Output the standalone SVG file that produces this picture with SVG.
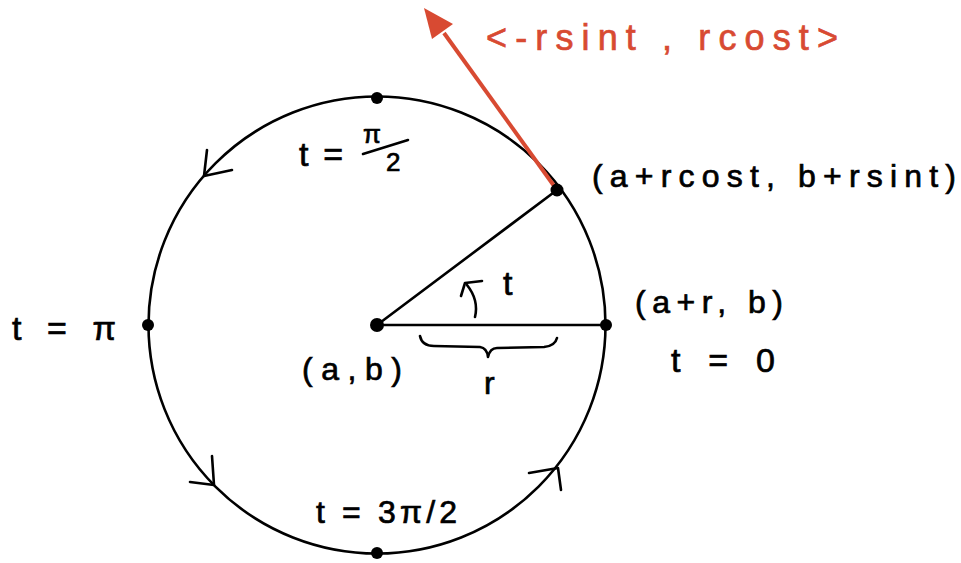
<svg xmlns="http://www.w3.org/2000/svg" width="961" height="563" viewBox="0 0 961 563">
<style>
.lbl{font-family:"Liberation Sans","DejaVu Sans",sans-serif;fill:#000;stroke:#000;stroke-width:0.7}
.red{fill:#d84a32;stroke:#d84a32}
.ln{fill:none;stroke:#000;stroke-width:2.6;stroke-linecap:round;stroke-linejoin:round}
.dot{fill:#000}
</style>
<rect width="961" height="563" fill="#fff"/>

<g id="circle">
<circle cx="377" cy="325" r="228.5" class="ln"/>
<path class="ln" d="M207,150 L204,176 L232,170"/>
<path class="ln" d="M212,456 L214,485 L190,482"/>
<path class="ln" d="M529,473 L558,468 L561,490"/>
</g>

<g id="connectors">
<line x1="377" y1="325" x2="557" y2="190" class="ln"/>
<line x1="377" y1="325" x2="606" y2="325" class="ln"/>
<line x1="557" y1="190" x2="444" y2="33" stroke="#d84a32" stroke-width="4"/>
<path d="M424,8 L453,24 L432,39 Z" fill="#d84a32"/>
<path class="ln" d="M420,336 Q422,346 434,346 L480,347 Q487,348 488,357 Q490,348 497,348 L544,347 Q555,346 557,338"/>
<path class="ln" d="M475,317 Q479,300 467,285"/>
<path class="ln" d="M461,296 L465,283 L482,281"/>
</g>

<g id="center">
<circle cx="377" cy="325" r="7" class="dot"/>
<text class="lbl" x="302" y="380" font-size="32" textLength="100" lengthAdjust="spacing">(a,b)</text>
</g>

<g id="radius-label">
<text class="lbl" x="484" y="394" font-size="32">r</text>
</g>

<g id="angle-label">
<text class="lbl" x="503" y="295" font-size="34">t</text>
</g>

<g id="point-t">
<circle cx="557" cy="190" r="6.5" class="dot"/>
<text class="lbl" x="592" y="187" font-size="32" textLength="364" lengthAdjust="spacing">(a+rcost, b+rsint)</text>
</g>

<g id="tangent-label">
<text class="lbl red" x="486" y="50" font-size="36" textLength="352" lengthAdjust="spacing">&lt;-rsint , rcost&gt;</text>
</g>

<g id="point-top">
<circle cx="377" cy="98" r="6" class="dot"/>
<text class="lbl" x="299" y="166" font-size="34" textLength="44" lengthAdjust="spacing">t=</text>
<text class="lbl" x="363" y="143" font-size="26">π</text>
<line x1="363" y1="154" x2="408" y2="140" class="ln"/>
<text class="lbl" x="386" y="171" font-size="26">2</text>
</g>

<g id="point-left">
<circle cx="148" cy="325" r="6" class="dot"/>
<text class="lbl" x="12" y="340" font-size="34" textLength="104" lengthAdjust="spacing">t = π</text>
</g>

<g id="point-right">
<circle cx="606" cy="325" r="6" class="dot"/>
<text class="lbl" x="635" y="313" font-size="32" textLength="148" lengthAdjust="spacing">(a+r, b)</text>
<text class="lbl" x="671" y="372" font-size="34" textLength="104" lengthAdjust="spacing">t = 0</text>
</g>

<g id="point-bottom">
<circle cx="377" cy="553" r="6" class="dot"/>
<text class="lbl" x="316" y="523" font-size="32" textLength="141" lengthAdjust="spacing">t = 3π/2</text>
</g>
</svg>
